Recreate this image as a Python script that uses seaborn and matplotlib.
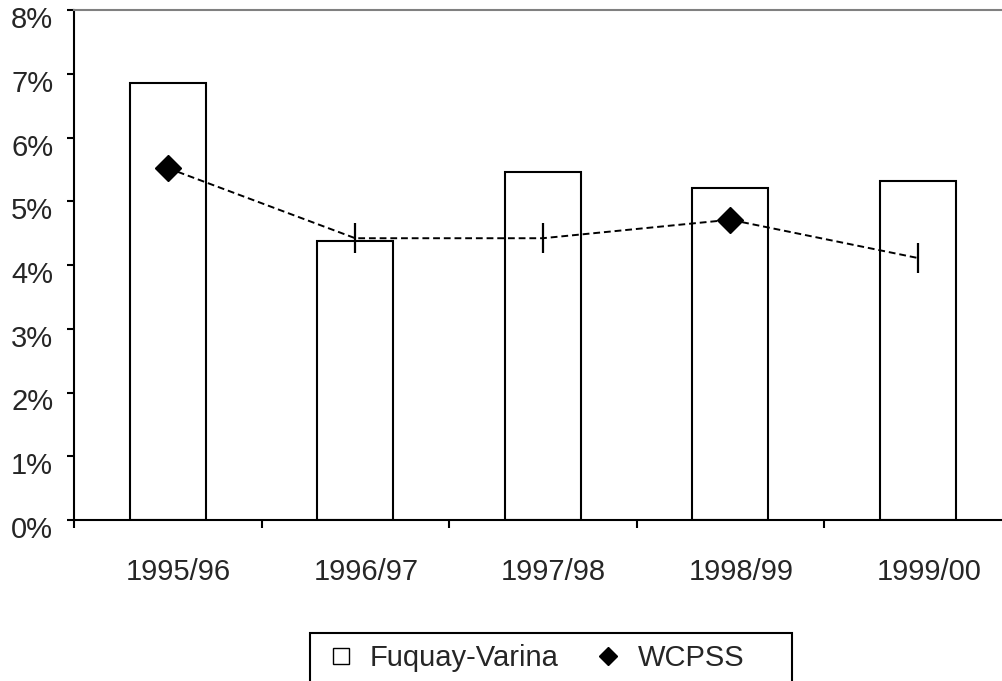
import numpy as np
import pandas as pd
import matplotlib
matplotlib.use("Agg")
import matplotlib.pyplot as plt
import matplotlib.transforms as mtrans
from matplotlib.lines import Line2D
from matplotlib.patches import Rectangle
import seaborn as sns

years = ["1995/96", "1996/97", "1997/98", "1998/99", "1999/00"]
fuquay = [6.85, 4.37, 5.46, 5.21, 5.31]
wcpss = [5.52, 4.42, 4.42, 4.71, 4.11]
wcpss_marker = ["D", "|", "|", "D", "|"]
yticks = [0, 1, 2, 3, 4, 5, 6, 7, 8]

sns.set_style("white")
plt.rcParams["font.family"] = ["Liberation Sans", "DejaVu Sans"]

df = pd.DataFrame({"year": years, "fuquay": fuquay, "wcpss": wcpss})
df["pos"] = np.arange(len(years))

fig = plt.figure(figsize=(10.02, 6.81), dpi=100)
ax = fig.add_axes([74 / 1002, 1 - 520 / 681, 937.5 / 1002, 510 / 681])

sns.barplot(data=df, x="year", y="fuquay", color="white", edgecolor="black",
            linewidth=1.5, width=0.405, saturation=1, ax=ax)
sns.lineplot(data=df, x="pos", y="wcpss", color="black", linewidth=1.4,
             linestyle=(0, (3.5, 2)), ax=ax)
for m in ["D", "|"]:
    sub = df[[mk == m for mk in wcpss_marker]]
    if m == "D":
        ax.plot(sub["pos"], sub["wcpss"], linestyle="none", marker="D",
                markersize=13.5, color="black")
    else:
        ax.plot(sub["pos"], sub["wcpss"], linestyle="none", marker="|",
                markersize=21, markeredgewidth=1.6, color="black")

ax.set_xlim(-0.5, 4.5)
ax.set_ylim(0, 8)
ax.set_xlabel("")
ax.set_ylabel("")

ax.set_xticks(np.arange(-0.5, 5, 1))
ax.set_xticklabels([])
ax.set_xticks(df["pos"], minor=True)
ax.set_xticklabels(years, minor=True, fontsize=21)
ax.tick_params(axis="x", which="major", length=6, width=1.5, direction="out",
               bottom=True, color="black")
ax.tick_params(axis="x", which="minor", length=0, pad=27)
for lab in ax.get_xticklabels(minor=True):
    lab.set_transform(lab.get_transform() +
                      mtrans.ScaledTranslation(0.11, 0, fig.dpi_scale_trans))

ax.set_yticks(yticks)
ax.set_yticklabels([f"{v}%" for v in yticks], fontsize=21)
ax.tick_params(axis="y", length=5, width=1.5, direction="out", left=True,
               pad=10, color="black")
for lab in ax.get_yticklabels():
    lab.set_transform(lab.get_transform() +
                      mtrans.ScaledTranslation(0, -0.07, fig.dpi_scale_trans))

for side in ["left", "bottom"]:
    ax.spines[side].set_color("black")
    ax.spines[side].set_linewidth(1.5)
ax.spines["top"].set_color("#808080")
ax.spines["top"].set_linewidth(1.5)
ax.spines["right"].set_visible(False)

handles = [
    Line2D([], [], linestyle="none", marker="s", markersize=11.5,
           markerfacecolor="white", markeredgecolor="black", markeredgewidth=1),
    Line2D([], [], linestyle="none", marker="D", markersize=9, color="black"),
]
fig.legend(handles, ["Fuquay-Varina", "WCPSS"], loc="center left",
           bbox_to_anchor=(326 / 1002, 1 - 658 / 681), ncol=2, frameon=False,
           fontsize=21, handlelength=1, handletextpad=0.5, columnspacing=1.2,
           borderpad=0, borderaxespad=0)
fig.add_artist(Rectangle((310 / 1002, -0.1), 482 / 1002, 0.1 + 1 - 633 / 681,
                         transform=fig.transFigure, fill=False,
                         edgecolor="black", linewidth=1.5, clip_on=False))

fig.savefig("out.png", dpi=100)
